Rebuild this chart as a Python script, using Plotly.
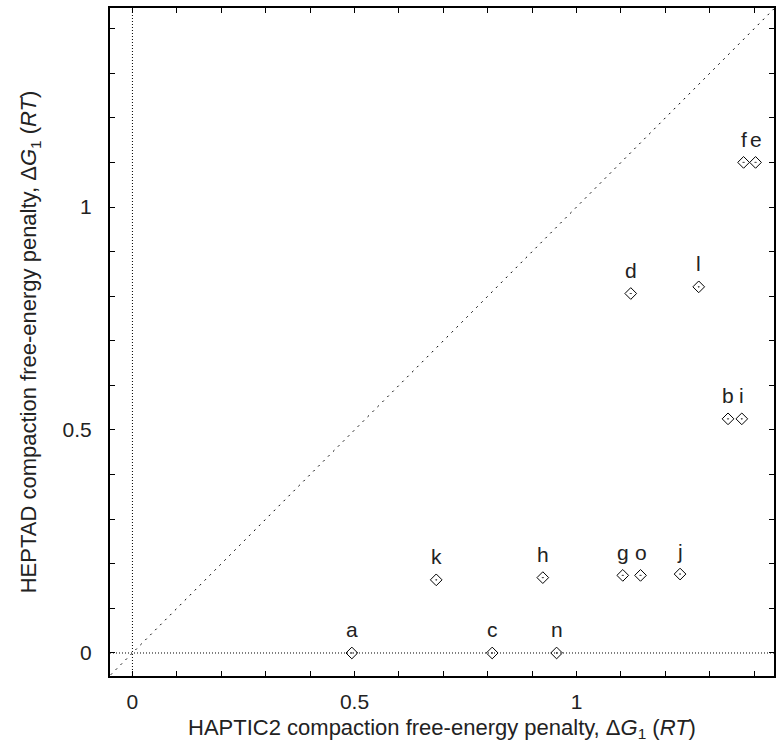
import plotly.graph_objects as go

labels = ["a", "c", "n", "k", "h", "g", "o", "j", "d", "l", "b", "i", "f", "e"]
haptic2 = [0.494, 0.810, 0.955, 0.684, 0.924, 1.104, 1.144, 1.233, 1.122, 1.275, 1.341, 1.372, 1.376, 1.403]
heptad = [0.0, 0.0, 0.0, 0.164, 0.169, 0.174, 0.174, 0.177, 0.806, 0.821, 0.525, 0.525, 1.100, 1.100]

x_range = [-0.0505, 1.4445]
y_range = [-0.0516, 1.4462]
diag = [-0.06, 1.46]
major_ticks = [0, 0.5, 1]
major_text = ["0", "0.5", "1"]

FONT = "Liberation Sans, Arial, Helvetica, sans-serif"
FS = 21
TFS = 22

fig = go.Figure()

fig.add_trace(go.Scatter(x=diag, y=diag, mode="lines",
                         line=dict(color="black", width=1, dash="2px,5px"),
                         hoverinfo="skip", showlegend=False, cliponaxis=True))

fig.add_trace(go.Scatter(x=haptic2, y=heptad, mode="markers",
                         marker=dict(symbol="diamond-open-dot", size=9, color="black",
                                     line=dict(width=1, color="black")),
                         showlegend=False))

for lab, xv, yv in zip(labels, haptic2, heptad):
    fig.add_annotation(x=xv, y=yv, text=lab, showarrow=False, yshift=23,
                       font=dict(size=FS, color="#222", family=FONT))

fig.add_shape(type="line", x0=0, x1=0, y0=y_range[0], y1=y_range[1], xref="x", yref="y",
              line=dict(color="black", width=1, dash="1px,2px"), layer="below")
fig.add_shape(type="line", x0=x_range[0], x1=x_range[1], y0=0, y1=0, xref="x", yref="y",
              line=dict(color="black", width=1, dash="1px,2px"), layer="below")

axis_common = dict(
    showgrid=False, zeroline=False, showline=True, linecolor="black", linewidth=2,
    mirror="ticks", ticks="inside", ticklen=5, tickwidth=1, tickcolor="black",
    tickfont=dict(size=FS, color="#222", family=FONT),
    minor=dict(dtick=0.1, ticks="inside", ticklen=5, tickwidth=1, tickcolor="black", showgrid=False),
)

fig.update_xaxes(range=x_range, tickvals=major_ticks, ticktext=major_text,
                 ticklabelstandoff=6,
                 title=dict(text="HAPTIC2 compaction free-energy penalty, Δ<i>G</i><sub>1</sub> (<i>RT</i>)",
                            font=dict(size=TFS, color="#222", family=FONT), standoff=7),
                 **axis_common)
fig.update_yaxes(range=y_range, tickvals=major_ticks, ticktext=major_text,
                 ticklabelstandoff=12,
                 title=dict(text="HEPTAD compaction free-energy penalty, Δ<i>G</i><sub>1</sub> (<i>RT</i>)",
                            font=dict(size=TFS, color="#222", family=FONT), standoff=20),
                 **axis_common)

fig.update_layout(width=778, height=744, margin=dict(l=110, r=2, t=8, b=68),
                  plot_bgcolor="white", paper_bgcolor="white",
                  font=dict(family=FONT))

fig.write_html("out.html")
